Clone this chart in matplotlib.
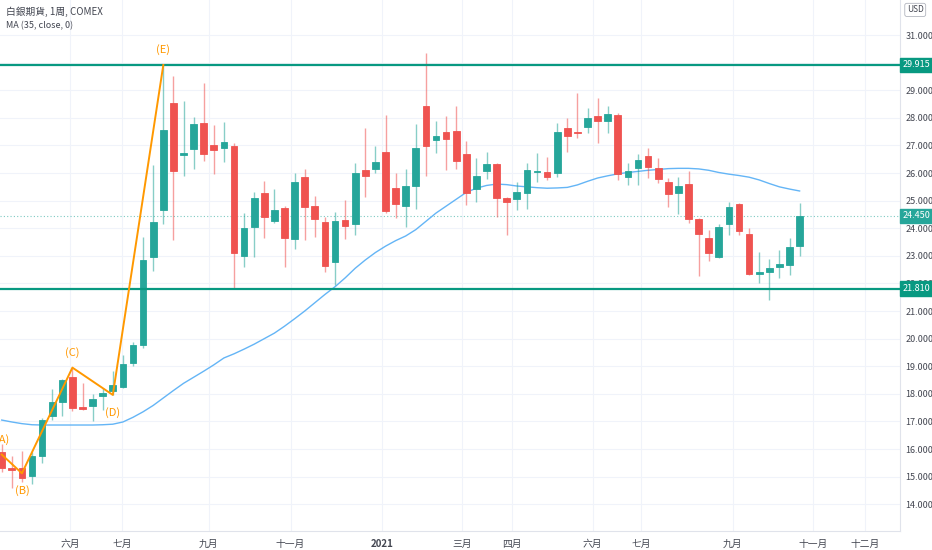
import matplotlib.pyplot as plt
from matplotlib.transforms import blended_transform_factory

plt.rcParams['font.family'] = ['Noto Sans CJK TC', 'DejaVu Sans']

# weekly OHLC, COMEX silver, one bar per week
opens = [15.88, 15.30, 15.32, 15.02, 15.74, 17.20, 17.69, 18.62, 17.52, 17.56,
         17.91, 18.11, 18.26, 19.10, 19.77, 22.95, 24.66, 28.52, 26.66, 26.88,
         27.82, 27.03, 26.91, 26.98, 22.99, 24.06, 25.26, 24.27, 24.74, 23.61,
         25.86, 24.79, 24.22, 22.78, 24.29, 24.14, 26.10, 26.13, 26.76, 25.45,
         24.82, 25.53, 28.43, 27.18, 27.47, 27.53, 26.69, 25.41, 26.07, 26.31,
         25.09, 25.06, 25.29, 26.04, 26.04, 25.99, 27.64, 27.50, 27.68, 28.07,
         27.90, 28.09, 25.84, 26.17, 26.62, 26.17, 25.69, 25.27, 25.60, 24.32,
         23.66, 22.97, 24.14, 24.87, 23.78, 22.33, 22.40, 22.58, 22.67, 23.37]
highs = [16.20, 15.75, 15.93, 15.90, 17.13, 18.19, 18.55, 18.95, 18.40, 18.00,
         18.22, 18.84, 19.41, 19.89, 23.67, 26.29, 29.915, 29.53, 28.60, 28.02,
         29.25, 27.74, 27.85, 27.10, 24.54, 25.32, 25.71, 25.42, 24.80, 25.99,
         26.14, 25.17, 24.42, 24.58, 25.02, 26.35, 27.64, 26.98, 28.10, 25.99,
         26.13, 27.76, 30.35, 27.87, 28.07, 28.43, 27.16, 26.53, 26.75, 26.38,
         25.15, 25.66, 26.37, 26.71, 26.57, 27.80, 27.98, 28.89, 28.34, 28.71,
         28.44, 28.16, 26.37, 26.69, 26.89, 26.55, 25.81, 25.87, 26.08, 24.36,
         23.93, 24.14, 24.94, 24.92, 24.00, 23.15, 22.87, 23.21, 23.63, 24.92]
lows = [15.15, 14.60, 14.82, 14.73, 15.50, 17.05, 17.20, 17.39, 17.42, 17.00,
        17.41, 17.96, 18.22, 19.00, 19.65, 22.46, 24.15, 23.57, 25.89, 26.13,
        26.45, 25.96, 26.40, 21.82, 22.61, 22.97, 23.63, 24.20, 22.61, 23.25,
        23.57, 23.67, 22.40, 21.94, 23.61, 23.75, 25.12, 25.99, 24.54, 24.38,
        24.03, 24.69, 25.90, 26.74, 26.11, 26.14, 24.84, 24.96, 25.79, 24.42,
        23.75, 24.66, 24.69, 25.66, 25.75, 25.84, 26.77, 27.26, 27.46, 27.08,
        27.46, 25.75, 25.57, 25.57, 25.81, 25.63, 24.78, 24.50, 24.20, 22.27,
        22.81, 22.92, 23.75, 23.75, 22.30, 22.03, 21.40, 22.18, 22.30, 23.00]
closes = [15.30, 15.25, 14.96, 15.76, 17.05, 17.69, 18.50, 17.47, 17.45, 17.83,
          18.02, 18.32, 19.07, 19.77, 22.85, 24.21, 27.56, 26.07, 26.72, 27.78,
          26.69, 26.83, 27.11, 23.09, 24.00, 25.08, 24.39, 24.66, 23.63, 25.66,
          24.76, 24.33, 22.63, 24.25, 24.09, 26.01, 25.89, 26.41, 24.62, 24.87,
          25.54, 26.92, 26.99, 27.33, 27.23, 26.45, 25.29, 25.89, 26.31, 25.10,
          24.94, 25.30, 26.11, 26.09, 25.87, 27.47, 27.35, 27.46, 28.00, 27.88,
          28.14, 25.95, 26.08, 26.47, 26.23, 25.77, 25.23, 25.53, 24.32, 23.79,
          23.11, 24.06, 24.78, 23.90, 22.33, 22.43, 22.55, 22.70, 23.33, 24.45]

# MA(35)
ma35 = [17.05, 16.98, 16.92, 16.88, 16.87, 16.87, 16.87, 16.87, 16.87, 16.87,
        16.88, 16.90, 16.98, 17.15, 17.35, 17.58, 17.85, 18.12, 18.38, 18.60,
        18.82, 19.05, 19.30, 19.45, 19.62, 19.80, 20.00, 20.20, 20.45, 20.72,
        21.00, 21.30, 21.60, 21.88, 22.20, 22.55, 22.85, 23.12, 23.35, 23.55,
        23.72, 23.95, 24.25, 24.55, 24.80, 25.05, 25.30, 25.45, 25.55, 25.60,
        25.58, 25.53, 25.50, 25.47, 25.45, 25.46, 25.48, 25.57, 25.70, 25.82,
        25.90, 25.97, 26.02, 26.06, 26.10, 26.13, 26.16, 26.17, 26.17, 26.15,
        26.10, 26.02, 25.96, 25.91, 25.85, 25.75, 25.62, 25.50, 25.42, 25.35]

# wave drawing (A)-(E)
wave_names = ['(A)', '(B)', '(C)', '(D)', '(E)']
wave_bars = [0, 2, 7, 11, 16]
wave_prices = [15.80, 15.12, 18.95, 17.96, 29.915]
wave_above = [True, False, True, False, True]

levels = [29.915, 21.810]
last_price = 24.450

# price labels on the right scale (30.000 sits under the 29.915 tag)
price_ticks = [14, 15, 16, 17, 18, 19, 20, 21, 22, 23, 24, 25, 26, 27, 28, 29, 31]

tick_pos = [6.76, 11.9, 20.5, 28.6, 37.7, 45.6, 50.5, 58.5, 63.3, 72.4, 80.3, 85.5]
tick_labels = ['六月', '七月', '九月', '十一月', '2021', '三月', '四月',
               '六月', '七月', '九月', '十一月', '十二月']

UP = '#26a69a'
DOWN = '#ef5350'
TEAL = '#089981'
ORANGE = '#ff9800'
GRID = '#f0f3fa'
TXT = '#434651'

fig = plt.figure(figsize=(9.32, 5.5), dpi=100)
ax = fig.add_axes([0, 19 / 550, 900 / 932, 531 / 550])

for i in range(len(opens)):
    o, h, l, c = opens[i], highs[i], lows[i], closes[i]
    col = UP if c >= o else DOWN
    ax.vlines(i, l, h, color=col, alpha=0.55, linewidth=1, zorder=3)
    lo, hi = min(o, c), max(o, c)
    ax.bar(i, max(hi - lo, 0.04), bottom=lo, width=0.66, color=col,
           edgecolor=col, linewidth=0.6, zorder=4)

ax.plot(range(len(ma35)), ma35, color='#64b5f6', linewidth=1, zorder=2)

for lv in levels:
    ax.axhline(lv, color=TEAL, linewidth=1.6, zorder=5)
ax.axhline(last_price, color=UP, linewidth=0.8, linestyle=(0, (1, 2)),
           alpha=0.6, zorder=1)

ax.plot(wave_bars, wave_prices, color=ORANGE, linewidth=1.4, zorder=6)
for name, b, p, up in zip(wave_names, wave_bars, wave_prices, wave_above):
    off = 0.55 if up else -0.62
    ax.text(b, p + off, name, color=ORANGE, fontsize=8, ha='center',
            va='center', zorder=7)

ax.set_xlim(-0.17, 88.94)
ax.set_ylim(13.03, 32.27)

ax.set_yticks(range(14, 32), minor=True)
ax.set_yticks(price_ticks)
ax.set_yticklabels(['%d.000' % v for v in price_ticks])
ax.yaxis.tick_right()
ax.tick_params(axis='y', which='both', length=0, pad=4, labelsize=6.5, labelcolor=TXT)
ax.set_xticks(tick_pos)
ax.set_xticklabels(tick_labels)
ax.tick_params(axis='x', length=0, pad=6, labelsize=7, labelcolor=TXT)
for lab in ax.get_xticklabels():
    if lab.get_text() == '2021':
        lab.set_fontweight('bold')

ax.grid(True, which='both', color=GRID, linewidth=0.8)
ax.set_axisbelow(True)
for s in ['top', 'left']:
    ax.spines[s].set_visible(False)
ax.spines['right'].set_color('#e0e3eb')
ax.spines['bottom'].set_color('#e0e3eb')

tr = blended_transform_factory(ax.transAxes, ax.transData)
for val, fc in [(levels[0], TEAL), (last_price, UP), (levels[1], TEAL)]:
    ax.text(1.0025, val, '%.3f' % val, transform=tr, color='white', fontsize=6.5,
            ha='left', va='center', clip_on=False, zorder=10,
            bbox=dict(boxstyle='square,pad=0.3', facecolor=fc, edgecolor=fc))

fig.text(0.982, 0.982, 'USD', color=TXT, fontsize=6, ha='center', va='center',
         bbox=dict(boxstyle='round,pad=0.25', facecolor='white', edgecolor='#b2b5be',
                   linewidth=0.6))

fig.text(0.006, 0.978, '白銀期貨, 1周, COMEX', color=TXT, fontsize=7,
         ha='left', va='center')
fig.text(0.006, 0.953, 'MA (35, close, 0)', color=TXT, fontsize=6.5,
         ha='left', va='center')

fig.savefig('out.png', dpi=100, facecolor='white')
